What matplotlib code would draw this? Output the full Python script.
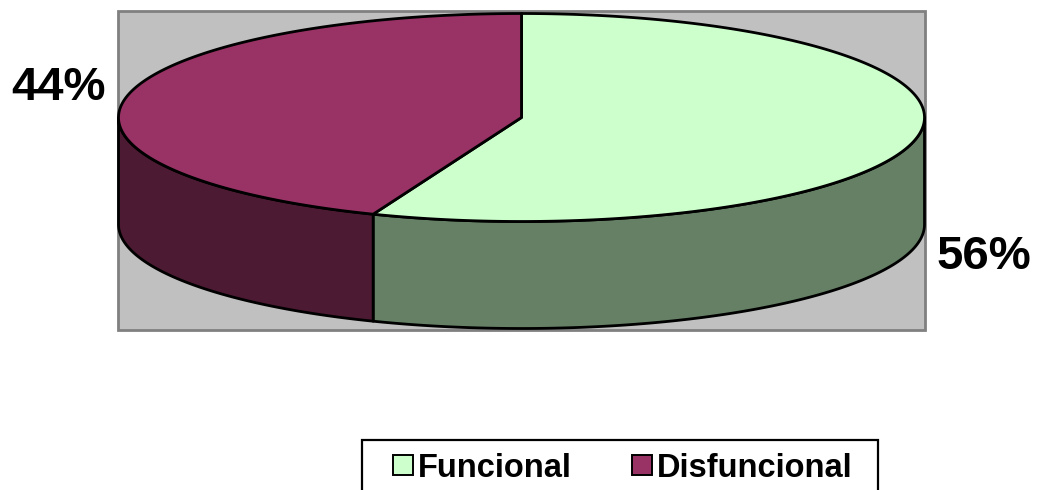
import numpy as np
import matplotlib
matplotlib.use("agg")
from matplotlib import pyplot as plt
from matplotlib.patches import Polygon, Rectangle

labels = ["Funcional", "Disfuncional"]
values = [56, 44]
top_colors = ["#CCFFCC", "#993366"]
side_colors = ["#668066", "#4D1A33"]

plt.rcParams["font.family"] = ["Liberation Sans", "DejaVu Sans"]
plt.rcParams["font.weight"] = "bold"

fig = plt.figure(figsize=(10.45, 4.9), dpi=100)
ax = fig.add_axes([0, 0, 1, 1])
ax.set_xlim(0, 1045)
ax.set_ylim(490, 0)
ax.axis("off")

# plot area
ax.add_patch(Rectangle((118, 11), 807, 319, facecolor="#C0C0C0",
                       edgecolor="#808080", lw=2))

cx, cy, rx, ry, depth = 521.5, 117.5, 403, 104, 107


def pt(t, dy=0.0):
    return cx + rx * np.cos(t), cy - ry * np.sin(t) + dy


fracs = np.array(values) / np.sum(values)
spans = []
a = np.pi / 2
for f in fracs:
    spans.append((a - 2 * np.pi * f, a))
    a -= 2 * np.pi * f

# sides, only the front half (-pi..0) shows
for (t0, t1), c in zip(spans, side_colors):
    lo, hi = max(t0, -np.pi), min(t1, 0)
    if hi <= lo:
        continue
    t = np.linspace(lo, hi, 200)
    x, y = pt(t)
    xb, yb = pt(t[::-1], depth)
    poly = np.column_stack([np.r_[x, xb], np.r_[y, yb]])
    ax.add_patch(Polygon(poly, closed=True, facecolor=c, edgecolor="black",
                         lw=2, joinstyle="round"))

# tops
for (t0, t1), c in zip(spans, top_colors):
    t = np.linspace(t0, t1, 300)
    x, y = pt(t)
    poly = np.column_stack([np.r_[cx, x], np.r_[cy, y]])
    ax.add_patch(Polygon(poly, closed=True, facecolor=c, edgecolor="black",
                         lw=2, joinstyle="round"))

ax.text(58, 88, f"{values[1]}%", fontsize=34, fontweight="bold",
        ha="center", va="center")
ax.text(984, 257, f"{values[0]}%", fontsize=34, fontweight="bold",
        ha="center", va="center")

# legend box (cut by the bottom edge like the original)
ax.add_patch(Rectangle((362, 440), 516, 70, facecolor="white",
                       edgecolor="black", lw=1.6, clip_on=False))
for x0, lab, c in zip([393, 632], labels, top_colors):
    ax.add_patch(Rectangle((x0, 455), 20, 20, facecolor=c,
                           edgecolor="black", lw=1.4))
    ax.text(x0 + 25, 477, lab, fontsize=23.5, fontweight="bold",
            ha="left", va="baseline")

fig.savefig("out.png", dpi=100)
